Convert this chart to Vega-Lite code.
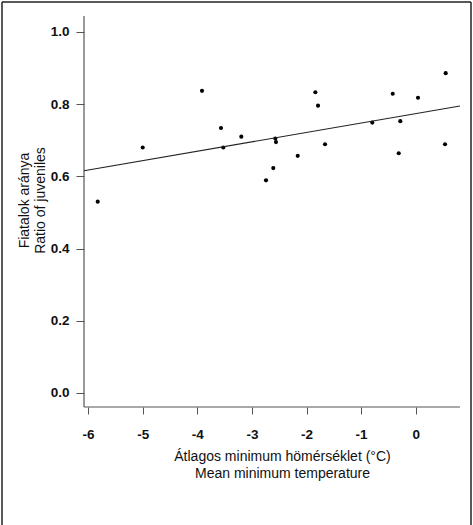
{
  "$schema": "https://vega.github.io/schema/vega-lite/v6.json",
  "width": 469,
  "height": 523,
  "autosize": "none",
  "padding": {"left": 2, "top": 2, "right": 2, "bottom": 0},
  "background": "white",
  "config": {
    "view": {"stroke": null},
    "font": "Liberation Sans",
    "axis": {"grid": false, "domain": false, "labelFont": "Liberation Sans", "titleFont": "Liberation Sans"}
  },
  "datasets": {
    "points": [
      {"temp": -5.824, "ratio": 0.530},
      {"temp": -5.0, "ratio": 0.680},
      {"temp": -3.914, "ratio": 0.837},
      {"temp": -3.566, "ratio": 0.734},
      {"temp": -3.524, "ratio": 0.680},
      {"temp": -3.194, "ratio": 0.710},
      {"temp": -2.571, "ratio": 0.705},
      {"temp": -2.559, "ratio": 0.695},
      {"temp": -2.608, "ratio": 0.623},
      {"temp": -2.742, "ratio": 0.589},
      {"temp": -2.161, "ratio": 0.657},
      {"temp": -1.838, "ratio": 0.833},
      {"temp": -1.789, "ratio": 0.796},
      {"temp": -1.661, "ratio": 0.689},
      {"temp": -0.795, "ratio": 0.749},
      {"temp": -0.421, "ratio": 0.829},
      {"temp": -0.282, "ratio": 0.753},
      {"temp": -0.311, "ratio": 0.664},
      {"temp": 0.042, "ratio": 0.818},
      {"temp": 0.549, "ratio": 0.886},
      {"temp": 0.537, "ratio": 0.689}
    ],
    "fit": [
      {"temp": -6.075, "ratio": 0.6158},
      {"temp": 0.811, "ratio": 0.795}
    ],
    "box": [
      {"temp": -6.075, "ratio": -0.0388, "temp2": -6.075, "ratio2": 1.0443},
      {"temp": -6.075, "ratio": -0.0388, "temp2": 0.811, "ratio2": -0.0388}
    ],
    "frame": [
      {"temp": -7.577, "ratio": -0.3657, "temp2": -7.577, "ratio2": 1.0831},
      {"temp": -7.577, "ratio": 1.0831, "temp2": 1.0128, "ratio2": 1.0831},
      {"temp": 1.0128, "ratio": -0.3657, "temp2": 1.0128, "ratio2": 1.0831}
    ]
  },
  "layer": [
    {
      "data": {"name": "points"},
      "mark": {"type": "point", "filled": true, "color": "#000000", "size": 17, "opacity": 1},
      "encoding": {
        "x": {
          "field": "temp", "type": "quantitative",
          "scale": {"domain": [-7.577, 1.0128], "nice": false, "zero": false},
          "axis": {
            "values": [-6, -5, -4, -3, -2, -1, 0],
            "labelExpr": "datum.value < 0 ? '-' + abs(datum.value) : '' + datum.value",
            "offset": -118,
            "tickSize": 7,
            "tickColor": "#555555",
            "labelPadding": 13,
            "labelFontSize": 13.5,
            "labelFontWeight": "bold",
            "labelColor": "#111111",
            "labelFlush": false,
            "labelOverlap": false,
            "title": ["Átlagos minimum hömérséklet (°C)", "Mean minimum temperature"],
            "titleFontSize": 14,
            "titleFontWeight": "normal",
            "titleColor": "#111111",
            "titleLineHeight": 17.7,
            "titleX": 280,
            "titleY": 53,
            "titleAlign": "center",
            "titleBaseline": "alphabetic"
          }
        },
        "y": {
          "field": "ratio", "type": "quantitative",
          "scale": {"domain": [-0.3657, 1.0831], "nice": false, "zero": false},
          "axis": {
            "values": [0, 0.2, 0.4, 0.6, 0.8, 1.0],
            "format": ".1f",
            "offset": -82,
            "tickSize": 8,
            "tickColor": "#555555",
            "labelPadding": 7,
            "labelFontSize": 13.5,
            "labelFontWeight": "bold",
            "labelColor": "#111111",
            "labelFlush": false,
            "labelOverlap": false,
            "title": ["Fiatalok aránya", "Ratio of juveniles"],
            "titleFontSize": 14,
            "titleFontWeight": "normal",
            "titleColor": "#111111",
            "titleLineHeight": 16.5,
            "titleAngle": -90,
            "titleX": -56,
            "titleY": 198,
            "titleAlign": "center",
            "titleBaseline": "alphabetic"
          }
        }
      }
    },
    {
      "data": {"name": "box"},
      "mark": {"type": "rule", "color": "#555555", "strokeWidth": 1.2},
      "encoding": {
        "x": {"field": "temp", "type": "quantitative"},
        "y": {"field": "ratio", "type": "quantitative"},
        "x2": {"field": "temp2"},
        "y2": {"field": "ratio2"}
      }
    },
    {
      "data": {"name": "frame"},
      "mark": {"type": "rule", "color": "#222222", "strokeWidth": 1.5},
      "encoding": {
        "x": {"field": "temp", "type": "quantitative"},
        "y": {"field": "ratio", "type": "quantitative"},
        "x2": {"field": "temp2"},
        "y2": {"field": "ratio2"}
      }
    },
    {
      "data": {"name": "fit"},
      "mark": {"type": "line", "color": "#222222", "strokeWidth": 1.1},
      "encoding": {
        "x": {"field": "temp", "type": "quantitative"},
        "y": {"field": "ratio", "type": "quantitative"}
      }
    }
  ]
}
